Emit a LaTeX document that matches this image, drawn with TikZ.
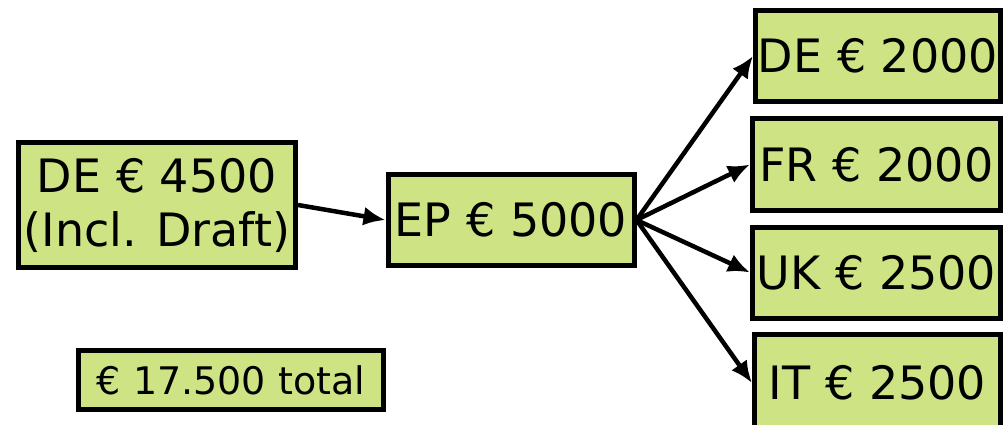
\documentclass[tikz,border=0pt]{standalone}
\usepackage{fontspec}
\setmainfont{DejaVu Sans}
\usepackage{xcolor}
\usetikzlibrary{arrows.meta}

\definecolor{boxgreen}{RGB}{206,228,132}

\begin{document}
\begin{tikzpicture}[x=1pt,y=-1pt,
		feebox/.style={draw=black,line width=5pt,fill=boxgreen,inner sep=0pt,
			minimum width=246pt,minimum height=91pt,align=center,
			font=\fontsize{46}{54}\selectfont},
		flow/.style={-{Latex[length=22pt,width=19pt]},line width=4.5pt}]
	
	%--- Rahmen ---
	\useasboundingbox (0,0) rectangle (1007,425);
	
	%--- Ausgangsanmeldung und EP ---
	\node[feebox,minimum width=277pt,minimum height=125pt] (src) at (157,205) {DE € 4500\\(Incl. Draft)};
	\node[feebox] (ep) at (511,220) {EP € 5000};
	
	%--- Nationale Phasen ---
	\node[feebox,minimum width=245pt] (de) at (878,56) {DE € 2000};
	\node[feebox,minimum width=248pt] (fr) at (876.5,164.5) {FR € 2000};
	\node[feebox,minimum width=248pt] (uk) at (876.5,272.5) {UK € 2500};
	\node[feebox,minimum width=246pt,minimum height=98pt] (it) at (877.5,383) {IT € 2500};
	
	%--- Summe ---
	\node[feebox,minimum width=305pt,minimum height=59pt,
		font=\fontsize{38}{44}\selectfont] (total) at (231,380) {€ 17.500 total};
	
	%--- Pfeile ---
	\draw[flow] (src.east) -- (ep.west);
	\foreach \n in {de,fr,uk,it}
		\draw[flow] (ep.east) -- (\n.west);
	
\end{tikzpicture}
\end{document}
